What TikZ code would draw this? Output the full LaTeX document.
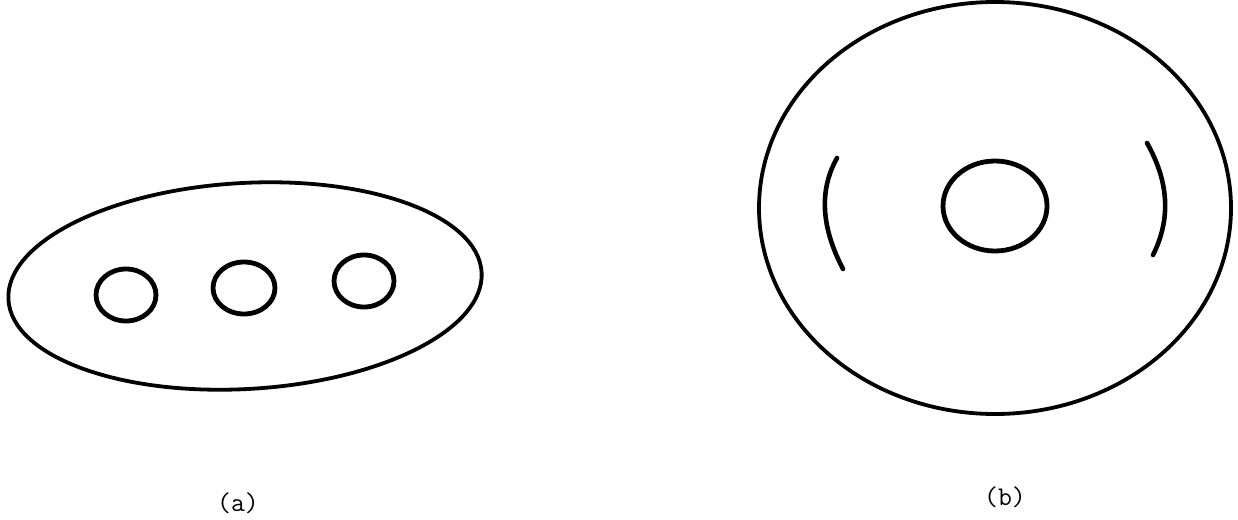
\documentclass[tikz,border=0pt]{standalone}
\begin{document}
\begin{tikzpicture}[x=1pt,y=-1pt,
  outline/.style={draw=black,line width=3.8pt},
  hole/.style={draw=black,line width=4.8pt},
  arcline/.style={draw=black,line width=4.6pt,line cap=round},
  lbl/.style={font=\ttfamily\fontsize{27}{31}\selectfont,inner sep=0pt}]
\useasboundingbox (0,0) rectangle (1238,519);
% (a)
\draw[outline,shift={(245,286)},rotate=3.3] (0,0) ellipse [x radius=237, y radius=103];
\draw[hole] (126,295) ellipse [x radius=30, y radius=26];
\draw[hole] (244,288) ellipse [x radius=31, y radius=26];
\draw[hole] (364,281) ellipse [x radius=30, y radius=26];
\node[lbl] (la) at (238,503) {(a)};
% (b)
\draw[outline] (995,208) ellipse [x radius=236, y radius=206];
\draw[hole] (995,206) ellipse [x radius=52, y radius=45];
\draw[arcline] (837,158) .. controls (819,190) and (821,227) .. (843,269);
\draw[arcline] (1147,143) .. controls (1169,182) and (1171,219) .. (1153,255);
\node[lbl] (lb) at (1005,497) {(b)};
\end{tikzpicture}
\end{document}
